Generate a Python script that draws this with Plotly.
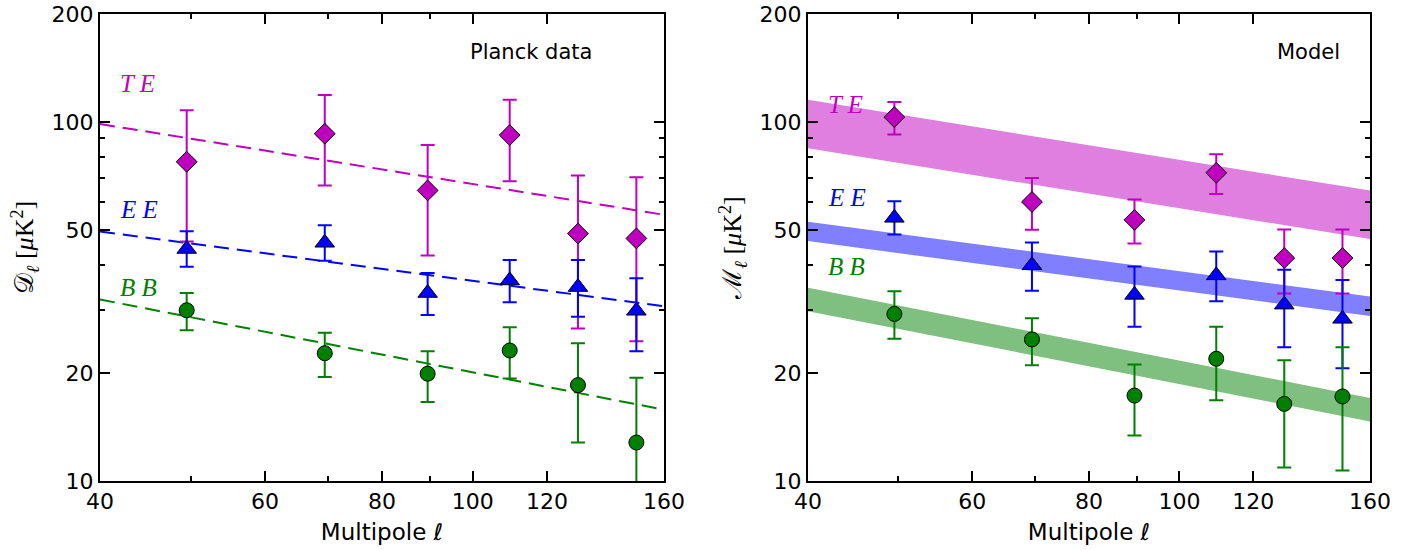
import numpy as np
import plotly.graph_objects as go

# ---------------- data ----------------
ell = [49.5, 69.5, 89.5, 109.5, 129.5, 149.5]

# Left panel: Planck data (value, upper end, lower end of error bar)
data_te = [77.5, 92.8, 64.5, 92.0, 48.9, 47.4]
data_te_hi = [107.8, 118.9, 86.3, 115.4, 71.0, 70.2]
data_te_lo = [46.5, 66.6, 42.5, 68.4, 26.6, 24.5]

data_ee = [44.3, 46.1, 33.4, 36.2, 34.7, 29.8]
data_ee_hi = [49.6, 51.6, 38.0, 41.3, 41.3, 36.7]
data_ee_lo = [39.5, 41.1, 29.0, 31.5, 28.7, 23.0]

data_bb = [29.9, 22.7, 19.9, 23.1, 18.5, 12.8]
data_bb_hi = [33.4, 25.9, 23.0, 26.8, 24.2, 19.4]
data_bb_lo = [26.3, 19.5, 16.6, 19.3, 12.8, 8.0]

# Right panel: model realisation
model_te = [103.2, 59.9, 53.4, 72.2, 41.8, 41.8]
model_te_hi = [113.7, 69.8, 60.8, 81.4, 50.2, 50.2]
model_te_lo = [92.4, 50.1, 45.9, 63.0, 33.3, 33.3]

model_ee = [54.1, 39.9, 33.0, 37.4, 31.0, 28.3]
model_ee_hi = [60.2, 46.2, 39.6, 43.6, 38.8, 36.3]
model_ee_lo = [48.6, 33.9, 26.9, 31.7, 23.6, 20.6]

model_bb = [29.2, 24.8, 17.3, 21.9, 16.4, 17.2]
model_bb_hi = [33.8, 28.4, 21.1, 26.9, 21.7, 23.6]
model_bb_lo = [24.9, 21.0, 13.4, 16.8, 10.9, 10.7]

# Power-law fits: amplitude at ell=80 and spectral slope of D_ell
fit_pivot = 80.0
fit_amp = {"TE": 73.8, "EE": 39.0, "BB": 22.5}
fit_slope = {"TE": -0.42, "EE": -0.346, "BB": -0.51}
# Model band half-width (multiplicative factor)
band_factor = {"TE": 1.168, "EE": 1.064, "BB": 1.078}

ell_range = [40, 160]
x_ticks = [40, 60, 80, 100, 120, 160]
x_minor = [50, 70, 90]
y_ticks = [10, 20, 50, 100, 200]
y_minor = [30, 40, 60, 70, 80, 90]

# ---------------- styles ----------------
C_TE, C_EE, C_BB = "#bf00bf", "#0000ff", "#008000"
BAND = {"TE": "#df7fdf", "EE": "#7f7fff", "BB": "#7fbf7f"}
COL = {"TE": C_TE, "EE": C_EE, "BB": C_BB}
SANS = "DejaVu Sans"
SERIF = "Liberation Serif"

fig = go.Figure()
ell_grid = np.geomspace(ell_range[0], ell_range[1], 50)


def powerlaw(k, x):
    return fit_amp[k] * (np.asarray(x) / fit_pivot) ** fit_slope[k]


def points(xa, ya, vals, hi, lo, color, symbol, size):
    v = np.array(vals)
    fig.add_trace(go.Scatter(
        x=ell, y=vals, mode="markers", xaxis=xa, yaxis=ya, showlegend=False,
        marker=dict(symbol=symbol, size=size, color=color,
                    line=dict(color="black", width=1)),
        error_y=dict(type="data", symmetric=False,
                     array=list(np.array(hi) - v), arrayminus=list(v - np.array(lo)),
                     color=color, thickness=2, width=7),
    ))


# left panel dashed fits
for k in ["TE", "EE", "BB"]:
    fig.add_trace(go.Scatter(
        x=ell_grid, y=powerlaw(k, ell_grid), mode="lines", xaxis="x", yaxis="y",
        showlegend=False, line=dict(color=COL[k], width=2, dash="15px,8px"),
        hoverinfo="skip"))

# right panel bands
for k in ["TE", "EE", "BB"]:
    up = powerlaw(k, ell_grid) * band_factor[k]
    dn = powerlaw(k, ell_grid) / band_factor[k]
    fig.add_trace(go.Scatter(
        x=np.concatenate([ell_grid, ell_grid[::-1]]),
        y=np.concatenate([up, dn[::-1]]),
        mode="lines", fill="toself", fillcolor=BAND[k], line=dict(width=0),
        xaxis="x2", yaxis="y2", showlegend=False, hoverinfo="skip"))

points("x", "y", data_te, data_te_hi, data_te_lo, C_TE, "diamond", 16)
points("x", "y", data_ee, data_ee_hi, data_ee_lo, C_EE, "triangle-up", 17)
points("x", "y", data_bb, data_bb_hi, data_bb_lo, C_BB, "circle", 15)
points("x2", "y2", model_te, model_te_hi, model_te_lo, C_TE, "diamond", 16)
points("x2", "y2", model_ee, model_ee_hi, model_ee_lo, C_EE, "triangle-up", 17)
points("x2", "y2", model_bb, model_bb_hi, model_bb_lo, C_BB, "circle", 15)

W, H = 1411, 550
xd1 = [100 / W, 664 / W]
xd2 = [808 / W, 1370 / W]
yd = [1 - 481 / H, 1 - 14 / H]

tickfont = dict(family=SANS, size=22, color="black")


def xaxis(domain, anchor):
    return dict(
        type="log", domain=domain, anchor=anchor, automargin=False,
        range=[np.log10(ell_range[0]), np.log10(ell_range[1])],
        tickmode="array", tickvals=x_ticks, ticktext=[str(t) for t in x_ticks],
        ticks="inside", ticklen=10, tickwidth=1.5, tickcolor="black",
        minor=dict(tickmode="array", tickvals=x_minor, ticks="inside",
                   ticklen=5, tickwidth=1.5, tickcolor="black", showgrid=False),
        showline=True, linecolor="black", linewidth=2, mirror="ticks",
        showgrid=False, zeroline=False, tickfont=tickfont,
        title=dict(text="Multipole <i>ℓ</i>", font=dict(family=SANS, size=23, color="black"),
                   standoff=10),
    )


def yaxis(domain, anchor, title):
    return dict(
        type="log", domain=domain, anchor=anchor, automargin=False,
        range=[1, np.log10(200)],
        tickmode="array", tickvals=y_ticks, ticktext=[str(t) for t in y_ticks],
        ticks="inside", ticklen=10, tickwidth=1.5, tickcolor="black",
        minor=dict(tickmode="array", tickvals=y_minor, ticks="inside",
                   ticklen=5, tickwidth=1.5, tickcolor="black", showgrid=False),
        showline=True, linecolor="black", linewidth=2, mirror="ticks",
        showgrid=False, zeroline=False, tickfont=tickfont,
        title=dict(text=title, font=dict(family=SERIF, size=26, color="black"),
                   standoff=10),
    )


fig.update_layout(
    width=W, height=H, margin=dict(l=0, r=0, t=0, b=0, autoexpand=False),
    paper_bgcolor="white", plot_bgcolor="white",
    xaxis=xaxis(xd1, "y"), yaxis=yaxis(yd, "x", "𝒟<sub><i>ℓ</i></sub> [<i>μ</i>K<sup>2</sup>]"),
    xaxis2=xaxis(xd2, "y2"), yaxis2=yaxis(yd, "x2", "ℳ<sub><i>ℓ</i></sub> [<i>μ</i>K<sup>2</sup>]"),
)

labfont = dict(family=SERIF, size=25)
ann = []
for k, yv in [("TE", 127.7), ("EE", 56.9), ("BB", 34.7)]:
    ann.append(dict(text=f"<i>{k[0]} {k[1]}</i>", x=np.log10(41.8), y=np.log10(yv),
                    xref="x", yref="y", xanchor="left", yanchor="middle", showarrow=False,
                    font=dict(color=COL[k], **labfont)))
for k, yv in [("TE", 112.0), ("EE", 61.8), ("BB", 39.7)]:
    ann.append(dict(text=f"<i>{k[0]} {k[1]}</i>", x=np.log10(41.8), y=np.log10(yv),
                    xref="x2", yref="y2", xanchor="left", yanchor="middle", showarrow=False,
                    font=dict(color=COL[k], **labfont)))
ann.append(dict(text="Planck data", x=0.764, y=0.919, xref="x domain", yref="y domain",
                xanchor="center", yanchor="middle", showarrow=False,
                font=dict(family=SANS, size=21, color="black")))
ann.append(dict(text="Model", x=0.891, y=0.919, xref="x2 domain", yref="y2 domain",
                xanchor="center", yanchor="middle", showarrow=False,
                font=dict(family=SANS, size=21, color="black")))
fig.update_layout(annotations=ann)

fig.write_html("out.html", config={"displayModeBar": False},
               post_script="document.body.style.margin='0';document.body.style.overflow='hidden';")
